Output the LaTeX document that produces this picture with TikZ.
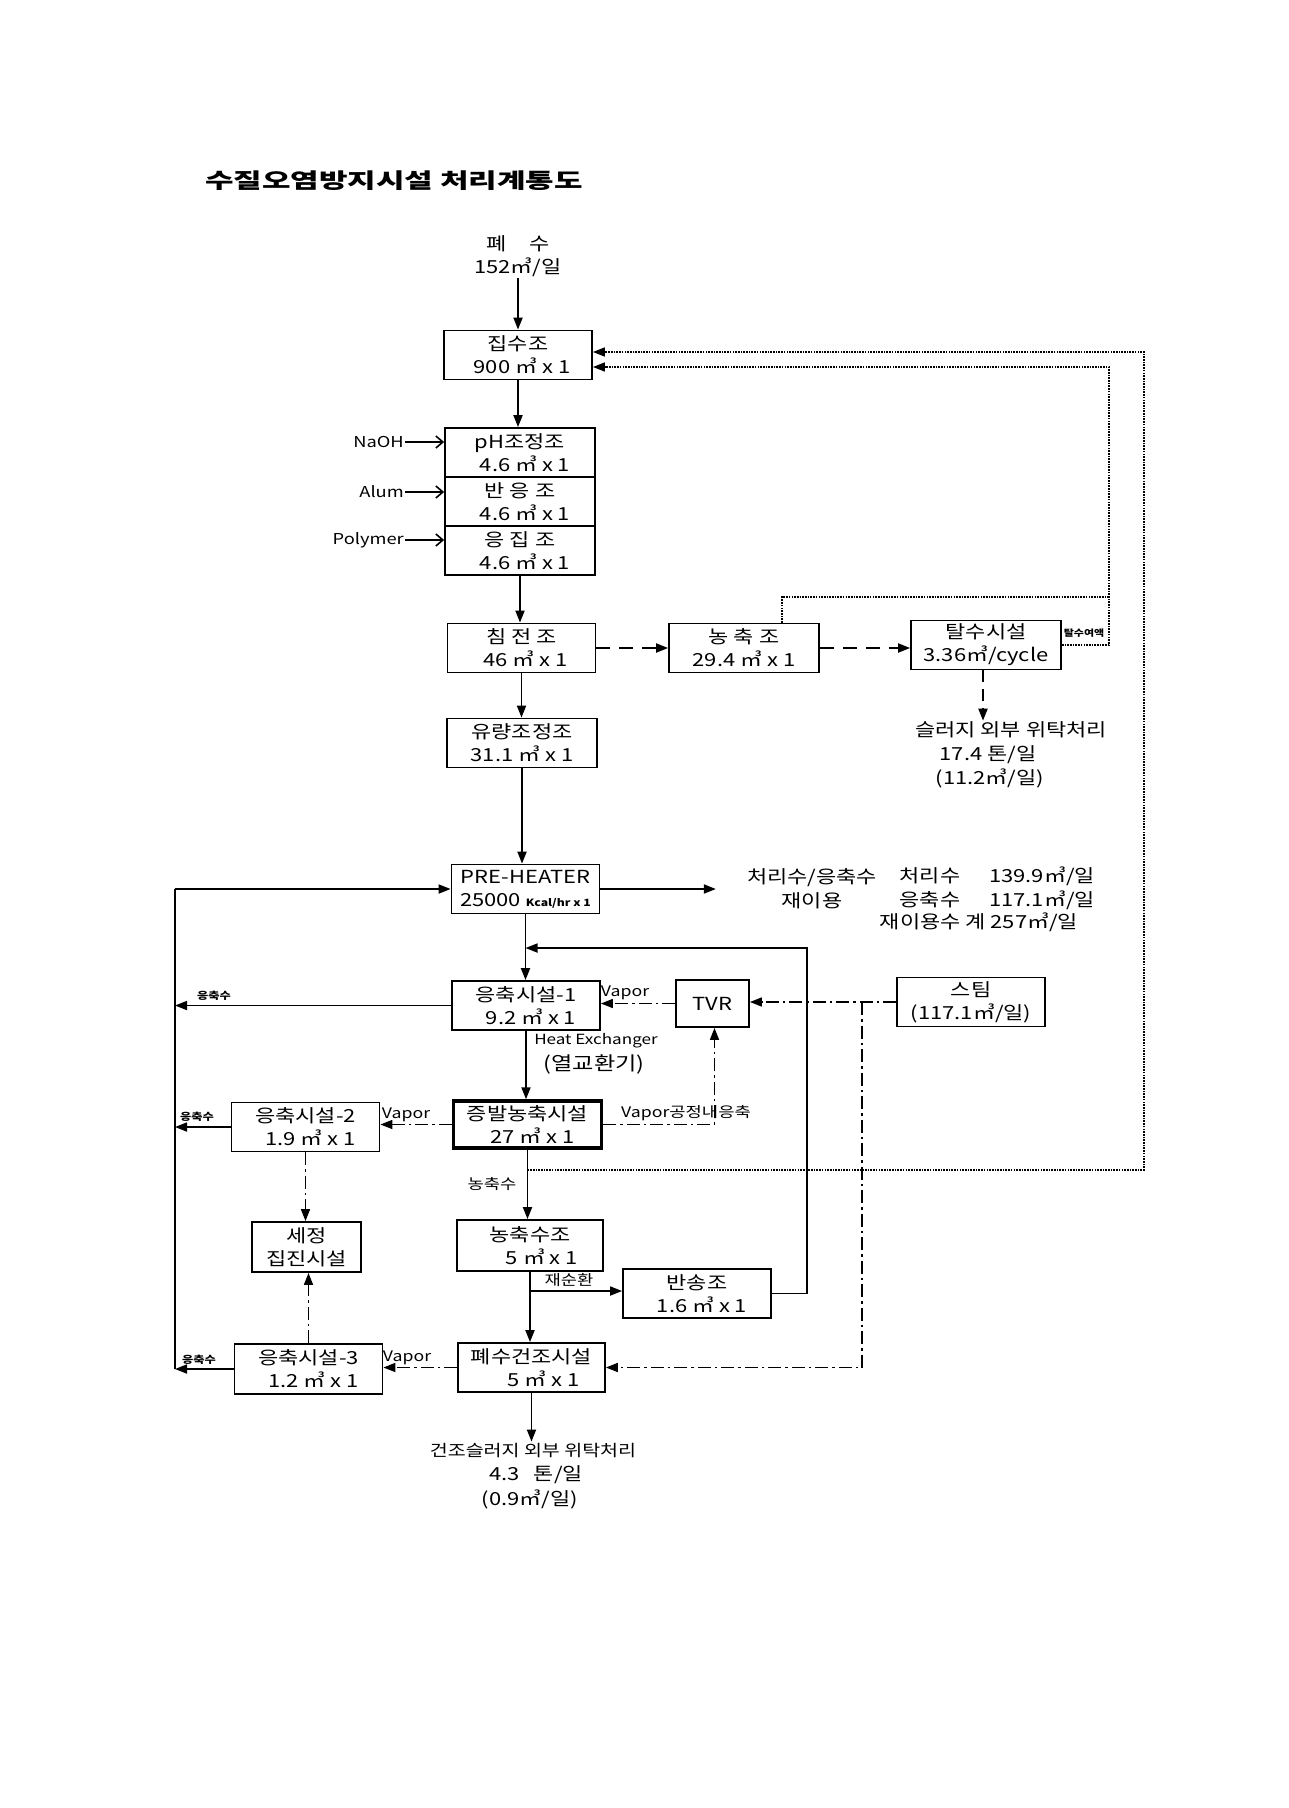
\documentclass[tikz,border=0pt]{standalone}
\usepackage{fontspec}
\setmainfont{Noto Sans CJK KR}[FakeStretch=1.22]
\usetikzlibrary{arrows.meta}
\begin{document}
\begin{tikzpicture}[x=1pt,y=-1pt,
  box/.style={draw, line width=1.8pt, minimum width=148pt, minimum height=49pt, inner sep=0pt, align=center, font=\fontsize{18}{23}\selectfont},
  txt/.style={inner sep=1pt, font=\fontsize{18}{21}\selectfont},
  chemt/.style={inner sep=1pt, font=\fontsize{15}{18}\selectfont},
  lbl/.style={inner sep=1pt, font=\fontsize{14.5}{17}\selectfont},
  tiny/.style={inner sep=0pt, font=\bfseries\fontsize{10}{11}\selectfont},
  ln/.style={line width=1.8pt},
  arr/.style={line width=1.8pt, -{Triangle[length=12pt,width=9pt]}},
  chem/.style={line width=1.6pt, -{Straight Barb[length=7pt,width=12pt]}},
  dsh/.style={line width=2pt, dash pattern=on 14pt off 9pt, -{Triangle[length=12pt,width=9pt]}},
  dd/.style={line width=1.6pt, dash pattern=on 13pt off 4pt on 2.5pt off 4pt},
  dda/.style={dd, -{Triangle[length=12pt,width=9pt]}},
  dotl/.style={line width=1.6pt, dash pattern=on 1.6pt off 1.1pt},
  dota/.style={dotl, -{Triangle[length=12pt,width=9pt]}}
]
\useasboundingbox (0,0) rectangle (1289,1808);

% title
\node[font=\bfseries\fontsize{21}{24}\selectfont] (title) at (394,181) {\scalebox{1.21}[1]{수질오염방지시설 처리계통도}};

% inflow
\node[txt, align=center, font=\fontsize{18}{23}\selectfont] (inflow) at (518,256) {폐\hspace{1.3em}수\\152㎥/일};

% boxes
\node[box] (jipsu) at (518,355) {집수조\\\hspace*{8pt}900 ㎥ x 1};
\node[box, minimum width=150pt] (ph) at (520,452.5) {pH조정조\\\hspace*{10pt}4.6 ㎥ x 1};
\node[box, minimum width=150pt] (banung) at (520,501.5) {반 응 조\\\hspace*{10pt}4.6 ㎥ x 1};
\node[box, minimum width=150pt] (eungjip) at (520,550.5) {응 집 조\\\hspace*{10pt}4.6 ㎥ x 1};
\node[box] (chimjeon) at (521.5,648) {침 전 조\\\hspace*{8pt}46 ㎥ x 1};
\node[box, minimum width=150pt] (nongchuk) at (744,648) {농 축 조\\29.4 ㎥ x 1};
\node[box, minimum width=150pt] (talsu) at (986,645) {탈수시설\\3.36㎥/cycle};
\node[box, minimum width=150pt] (yuryang) at (522,743) {유량조정조\\31.1 ㎥ x 1};
\node[box] (preheat) at (525.5,889) {PRE-HEATER\\25000 {\bfseries\fontsize{10}{12}\selectfont Kcal/hr x 1}};
\node[box] (eung1) at (526,1005.5) {응축시설-1\\\hspace*{10pt}9.2 ㎥ x 1};
\node[box, minimum width=73pt, minimum height=47pt] (tvr) at (712.5,1003.5) {TVR};
\node[box] (steam) at (971,1002) {스팀\\(117.1㎥/일)};
\node[box, line width=3.5pt, minimum height=47pt] (jeungbal) at (527.5,1124.5) {증발농축시설\\\hspace*{10pt}27 ㎥ x 1};
\node[box] (eung2) at (305.5,1127) {응축시설-2\\\hspace*{10pt}1.9 ㎥ x 1};
\node[box, minimum width=109pt, minimum height=50pt] (sejeong) at (306.5,1247) {세정\\집진시설};
\node[box, minimum width=146pt, minimum height=51pt] (nongsu) at (530,1245.5) {농축수조\\\hspace*{24pt}5 ㎥ x 1};
\node[box] (bansong) at (697,1293.5) {반송조\\\hspace*{10pt}1.6 ㎥ x 1};
\node[box, minimum height=50pt] (eung3) at (308.5,1369) {응축시설-3\\\hspace*{10pt}1.2 ㎥ x 1};
\node[box, minimum width=147pt] (geonjo) at (531.5,1367.5) {폐수건조시설\\\hspace*{24pt}5 ㎥ x 1};

% chemicals
\node[chemt, anchor=east] (naoh) at (405,442) {NaOH};
\node[chemt, anchor=east] (alum) at (405,492) {Alum};
\node[chemt, anchor=east] (poly) at (405,540) {Polymer};
\draw[chem] (naoh.east) -- (ph.west |- naoh.east);
\draw[chem] (alum.east) -- (banung.west |- alum.east);
\draw[chem] (poly.east) -- (eungjip.west |- poly.east);

% main flow
\draw[arr] (inflow.south) -- (jipsu.north);
\draw[arr] (jipsu.south) -- (ph.north -| jipsu.south);
\draw[arr] (eungjip.south) -- (chimjeon.north -| eungjip.south);
\draw[arr] (chimjeon.south) -- (yuryang.north -| chimjeon.south);
\draw[arr] (yuryang.south) -- (preheat.north -| yuryang.south);
\draw[arr] (preheat.south) -- (eung1.north -| preheat.south);
\draw[arr] (eung1.south) -- (jeungbal.north -| eung1.south);
\draw[arr] (jeungbal.south) -- (nongsu.north -| jeungbal.south);
\draw[arr] (nongsu.south) -- (geonjo.north -| nongsu.south);

% sludge line
\draw[dsh] (chimjeon.east) -- (nongchuk.west);
\draw[dsh] (nongchuk.east) -- (talsu.west |- nongchuk.east);
\node[txt] (sl1) at (1011,730) {슬러지 외부 위탁처리};
\node[txt] (sl2) at (988,755) {17.4 톤/일};
\node[txt] (sl3) at (990,778) {(11.2㎥/일)};
\draw[dsh, dash pattern=on 12pt off 7pt] ([xshift=-3pt]talsu.south) -- ([xshift=-3pt]talsu.south |- sl1.north);
\node[tiny, font=\bfseries\fontsize{9}{10}\selectfont] (talsuyeo) at (1084,633) {탈수여액};

% dotted returns
\coordinate (ri) at (1109,367);
\coordinate (nj) at (1109,597);
\coordinate (ro) at (1144,352);
\coordinate (nsj) at ([yshift=-20pt]jeungbal.south);
\draw[dota] (talsu.east) -| (ri) -- (jipsu.east |- ri);
\draw[dotl] ([xshift=38pt]nongchuk.north) |- (nj);
\draw[dota] (nsj) -| (ro) -- (jipsu.east |- ro);

% pre-heater output
\node[txt, align=center, font=\fontsize{18}{24}\selectfont] (reuse) at (812,889) {처리수/응축수\\재이용};
\draw[arr] (preheat.east) -- ([xshift=-30pt]reuse.west);
\node[txt] (r1a) at (930,876) {처리수};
\node[txt] (r1b) at (1042,876) {139.9㎥/일};
\node[txt] (r2a) at (930,900) {응축수};
\node[txt] (r2b) at (1042,900) {117.1㎥/일};
\node[txt] (r3) at (979,922) {재이용수 계 257㎥/일};

% left return loop
\coordinate (lt) at (175,889);
\coordinate (lb) at (175,1369);
\draw[ln] (lb) -- (lt);
\draw[arr] (lt) -- (preheat.west);
\draw[arr] (eung1.west) -- (eung1.west -| lt);
\draw[arr] (eung2.west) -- (eung2.west -| lt);
\draw[arr] (eung3.west) -- (eung3.west -| lt);
\node[tiny] (c1) at (214,996) {응축수};
\node[tiny] (c2) at (197,1117) {응축수};
\node[tiny] (c3) at (199,1360) {응축수};

% recirculation loop
\coordinate (rj) at (807,948);
\draw[arr] (bansong.east) -| (rj) -- (preheat.south |- rj);
\coordinate (jj) at (530,1291);
\draw[arr] (jj) -- (bansong.west |- jj);
\node[lbl] (jaesun) at (569,1280) {재순환};
\node[lbl] (nongchuksu) at (492,1184) {농축수};

% vapor lines
\draw[dda] (tvr.west) -- (eung1.east |- tvr.west);
\node[lbl] (vap1) at (625,993) {Vapor};
\draw[dda] (steam.west) -- (tvr.east |- steam.west);
\coordinate (sj) at (862,1002);
\draw[dda] (sj) |- (geonjo.east);
\draw[dda] (jeungbal.east) -| ([xshift=2pt]tvr.south);
\node[lbl] (vap4) at (686,1113) {Vapor공정내응축};
\draw[dda] (jeungbal.west) -- (eung2.east |- jeungbal.west);
\node[lbl] (vap2) at (406,1115) {Vapor};
\draw[dda] (eung2.south) -- (sejeong.north -| eung2.south);
\draw[dda] (eung3.north) -- (sejeong.south -| eung3.north);
\draw[dda] (geonjo.west) -- (eung3.east |- geonjo.west);
\node[lbl] (vap3) at (407,1358) {Vapor};

% heat exchanger
\node[lbl, font=\fontsize{14}{17}\selectfont] (hx1) at (596,1041) {Heat Exchanger};
\node[txt, font=\fontsize{19}{21}\selectfont] (hx2) at (594,1064) {(열교환기)};

% dried sludge
\node[txt, font=\fontsize{16}{19}\selectfont] (d1) at (533,1450) {건조슬러지 외부 위탁처리};
\node[txt] (d2) at (536,1475) {4.3\hspace{0.8em}톤/일};
\node[txt] (d3) at (530,1499) {(0.9㎥/일)};
\draw[arr] (geonjo.south) -- (d1.north -| geonjo.south);
\end{tikzpicture}
\end{document}
